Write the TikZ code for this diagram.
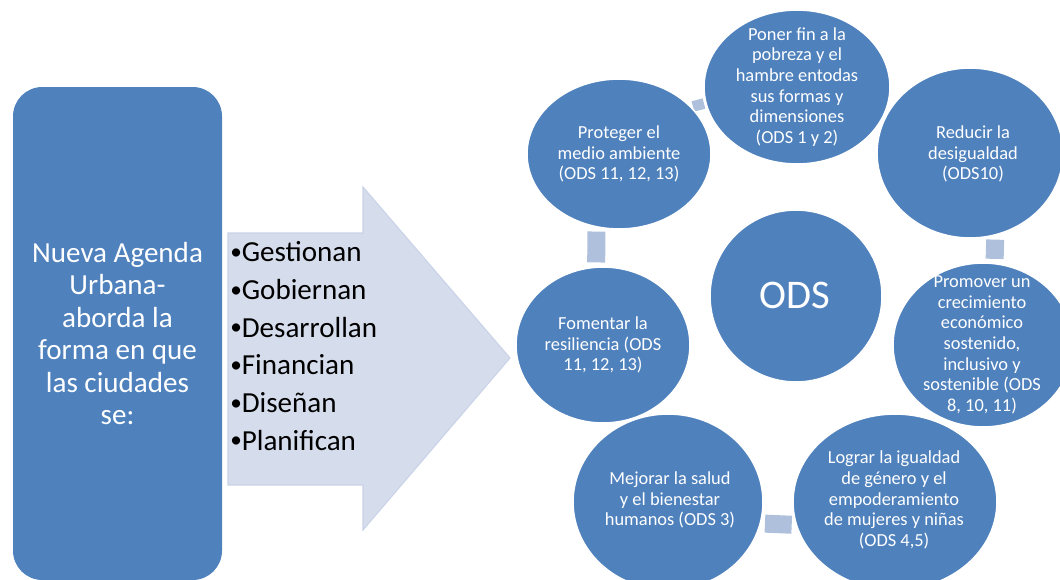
\documentclass[tikz,border=0pt]{standalone}
\usepackage{fontspec}
\setmainfont{Carlito}
\usetikzlibrary{shapes.geometric,backgrounds}

\definecolor{odsblue}{HTML}{4F81BD}
\definecolor{flecha}{HTML}{D5DCEB}
\definecolor{flechaborde}{HTML}{C9D3E8}
\definecolor{enlace}{HTML}{AFC0DC}

\newcommand{\vineta}{\raisebox{0.08em}{\scalebox{0.8}{•}}}

\tikzset{
  bubble/.style={ellipse, fill=odsblue, draw=white, line width=1.2pt, inner sep=0pt},
  bubbletxt/.style={text=white, align=center, inner sep=0pt, font=\fontsize{13.8}{15.5}\selectfont},
  link/.style={draw=enlace, line width=13.5pt, shorten <=3pt, shorten >=3pt},
}

\begin{document}
\begin{tikzpicture}[x=0.75pt, y=-0.75pt]
    \useasboundingbox (0,0) rectangle (1060,579);
    \clip (0,0) rectangle (1060,579);
    % caja izquierda
    \node[fill=odsblue, rounded corners=22pt, minimum width=156.75pt, minimum height=369.75pt,
          text=white, align=center, font=\fontsize{21.8}{24.4}\selectfont] (nua) at (117.5,333.5)
         {Nueva Agenda\\Urbana-\\aborda la\\forma en que\\las ciudades\\se:};
    % flecha
    \draw[fill=flecha, draw=flechaborde, line width=0.8pt]
        (228,233) -- (363,233) -- (363,187) -- (510,358) -- (363,530) -- (363,485) -- (228,485) -- cycle;
    \node[anchor=west, inner sep=0pt, align=left, font=\fontsize{21.8}{28.3}\selectfont] (verbos) at (230,346)
         {\vineta Gestionan\\\vineta Gobiernan\\\vineta Desarrollan\\\vineta Financian\\\vineta Diseñan\\\vineta Planifican};
    % ciclo ODS
    \node[bubble, minimum width=129pt, minimum height=129pt] (ods) at (796,296) {};
    \node[bubble, minimum width=139.5pt, minimum height=115.5pt] (poner) at (797,87) {};
    \node[bubble, minimum width=138pt, minimum height=112.5pt] (proteger) at (619,154) {};
    \node[bubble, minimum width=139.5pt, minimum height=127.5pt] (reducir) at (970,153) {};
    \node[bubble, minimum width=130.5pt, minimum height=117pt] (fomentar) at (603,345) {};
    \node[bubble, minimum width=135pt, minimum height=123pt] (promover) at (983,345) {};
    \node[bubble, minimum width=142.5pt, minimum height=132pt] (mejorar) at (668,502) {};
    \node[bubble, minimum width=153pt, minimum height=132pt] (lograr) at (895,502) {};
    % textos
    \node[bubbletxt, font=\fontsize{30.5}{32}\selectfont] (ods-txt) at (795,295) {ODS};
    \node[bubbletxt] (poner-txt) at (797,87) {Poner fin a la\\pobreza y el\\hambre entodas\\sus formas y\\dimensiones\\(ODS 1 y 2)};
    \node[bubbletxt] (proteger-txt) at (619,154) {Proteger el\\medio ambiente\\(ODS 11, 12, 13)};
    \node[bubbletxt] (reducir-txt) at (973,154) {Reducir la\\desigualdad\\(ODS10)};
    \node[bubbletxt] (fomentar-txt) at (603,345) {Fomentar la\\resiliencia (ODS\\11, 12, 13)};
    \node[bubbletxt] (promover-txt) at (982,345) {Promover un\\crecimiento\\económico\\sostenido,\\inclusivo y\\sostenible (ODS\\8, 10, 11)};
    \node[bubbletxt] (mejorar-txt) at (670,500) {Mejorar la salud\\y el bienestar\\humanos (ODS 3)};
    \node[bubbletxt] (lograr-txt) at (894,500) {Lograr la igualdad\\de género y el\\empoderamiento\\de mujeres y niñas\\(ODS 4,5)};
    % enlaces
    \begin{scope}[on background layer]
        \draw[link] (fomentar.95) -- (proteger.253);
        \draw[link, line width=8pt, shorten <=1pt, shorten >=1pt] (proteger.33) -- (poner.190);
        \draw[link] (reducir.287) -- (promover.82);
        \draw[link] (mejorar.347) -- (lograr.193);
    \end{scope}
\end{tikzpicture}
\end{document}
